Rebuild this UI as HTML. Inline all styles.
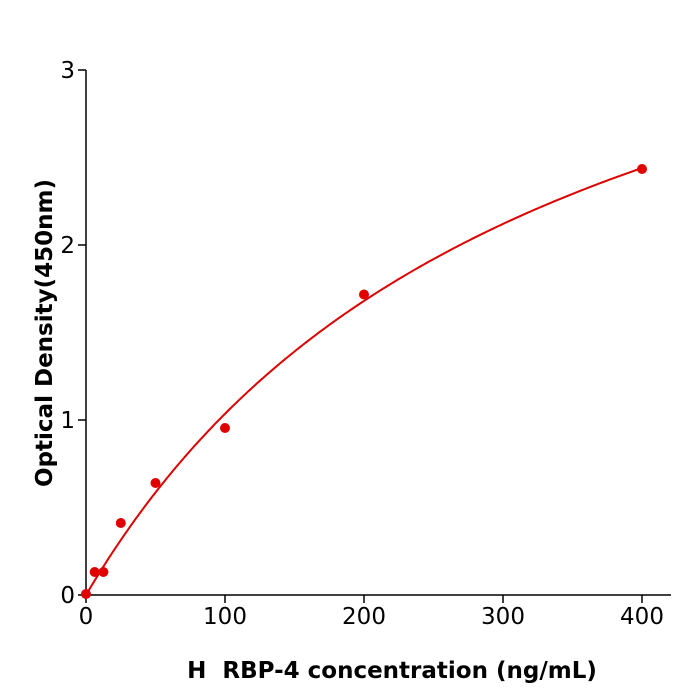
<!DOCTYPE html>
<html><head><style>body{margin:0;background:#fff}svg{display:block}text{font-family:"DejaVu Sans","Liberation Sans",sans-serif}</style></head>
<body>
<svg id="s" width="700" height="700" xmlns="http://www.w3.org/2000/svg">
<g stroke="#000" stroke-width="1.5" fill="none">
<line x1="86" y1="70" x2="86" y2="596"/>
<line x1="85" y1="595" x2="671" y2="595"/>
<line x1="78" y1="595" x2="86" y2="595"/>
<line x1="78" y1="420" x2="86" y2="420"/>
<line x1="78" y1="245" x2="86" y2="245"/>
<line x1="78" y1="70" x2="86" y2="70"/>
<line x1="86" y1="595" x2="86" y2="603"/>
<line x1="225" y1="595" x2="225" y2="603"/>
<line x1="364" y1="595" x2="364" y2="603"/>
<line x1="503" y1="595" x2="503" y2="603"/>
<line x1="642" y1="595" x2="642" y2="603"/>
</g>
<g font-size="23" fill="#000" text-anchor="end">
<text x="75" y="603">0</text><text x="75" y="428">1</text><text x="75" y="253">2</text><text x="75" y="78">3</text>
</g>
<g font-size="23" fill="#000" text-anchor="middle">
<text x="86" y="624">0</text><text x="225" y="624">100</text><text x="364" y="624">200</text><text x="503" y="624">300</text><text x="642" y="624">400</text>
</g>
<text x="392" y="678" font-size="23" font-weight="bold" text-anchor="middle" xml:space="preserve" style="white-space:pre">H  RBP-4 concentration (ng/mL)</text>
<text transform="translate(52,333) rotate(-90)" font-size="23" font-weight="bold" text-anchor="middle">Optical Density(450nm)</text>
<path id="c" fill="none" stroke="#dd0000" stroke-width="2"/>
<g fill="#e00000">
<circle cx="86" cy="594" r="5"/>
<circle cx="94.7" cy="572" r="5"/>
<circle cx="103.4" cy="572" r="5"/>
<circle cx="120.8" cy="523" r="5"/>
<circle cx="155.5" cy="483" r="5"/>
<circle cx="225" cy="428" r="5"/>
<circle cx="364" cy="294.5" r="5"/>
<circle cx="642" cy="169" r="5"/>
</g>
</svg>
<script>
var d="";for(var i=0;i<=200;i++){var x=i*2;var y=4.453*x/(330+x);d+=(i?"L":"M")+(86+x*1.39).toFixed(2)+","+(595-y*175).toFixed(2);}
document.getElementById("c").setAttribute("d",d);
</script>
</body></html>
